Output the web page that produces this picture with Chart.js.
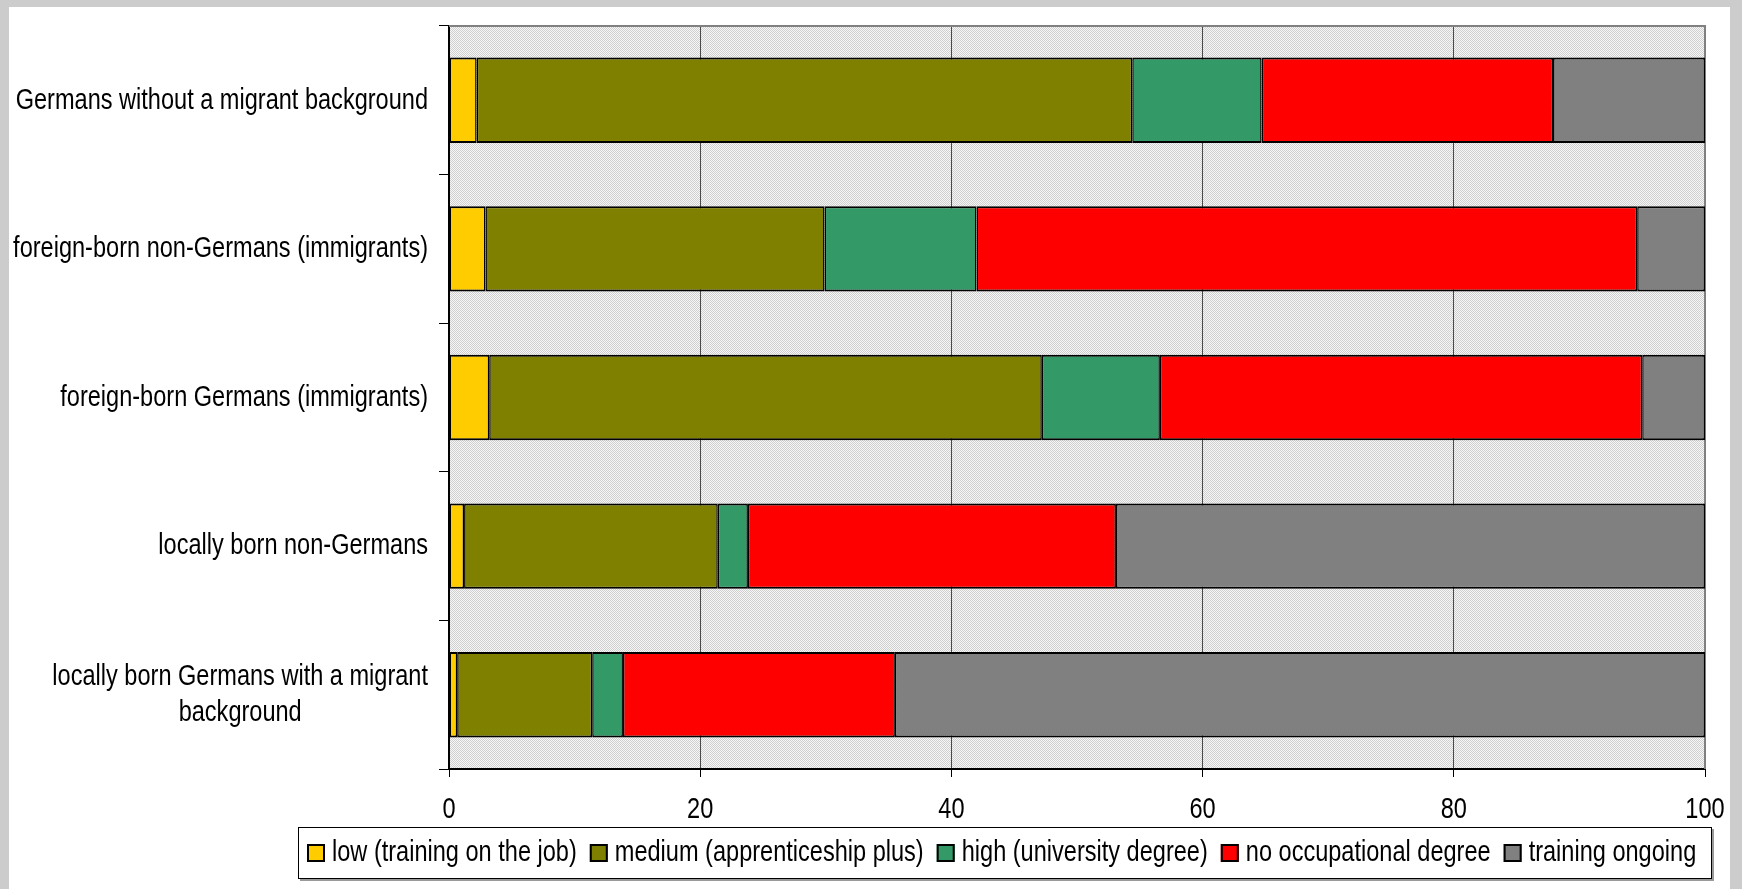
<!DOCTYPE html>
<html>
<head>
<meta charset="utf-8">
<script src="https://cdn.jsdelivr.net/npm/chart.js@4.4.1/dist/chart.umd.min.js"></script>
<style>
    body { margin: 0; background: #cccccc; width: 1742px; height: 889px; overflow: hidden; }
    #panel { position: absolute; left: 9px; top: 7px; width: 1721px; height: 882px; background: #ffffff; }
</style>
</head>
<body>
<div id="panel"><canvas id="chart" width="1721" height="882"></canvas></div>
<script>
const categories = [
    "Germans without a migrant background",
    "foreign-born non-Germans (immigrants)",
    "foreign-born Germans (immigrants)",
    "locally born non-Germans",
    ["locally born Germans with a migrant", "background"]
];
const seriesLabels = [
    "low (training on the job)",
    "medium (apprenticeship plus)",
    "high (university degree)",
    "no occupational degree",
    "training ongoing"
];
const seriesColors = ["#ffcc00", "#808000", "#339966", "#ff0000", "#808080"];
const lowValues = [2.2, 2.9, 3.2, 1.2, 0.65];
const mediumValues = [52.2, 27.0, 44.0, 20.2, 10.75];
const highValues = [10.3, 12.1, 9.4, 2.4, 2.45];
const noDegreeValues = [23.2, 52.6, 38.4, 29.3, 21.65];
const ongoingValues = [12.1, 5.4, 5.0, 46.9, 64.5];
const xTicks = [0, 20, 40, 60, 80, 100];

const fontFamily = "'Liberation Sans', Arial, sans-serif";
const fontSize = 30;
const narrow = 0.785;   // squeeze Liberation Sans to look like Arial Narrow

// draw text squeezed horizontally, x is the anchor for the given align
function narrowText(ctx, text, x, y, align) {
    ctx.save();
    ctx.font = fontSize + "px " + fontFamily;
    ctx.textAlign = align;
    ctx.textBaseline = "middle";
    ctx.fillStyle = "#000000";
    ctx.translate(x, y);
    ctx.scale(narrow, 1);
    ctx.fillText(text, 0, 0);
    ctx.restore();
}

function narrowWidth(ctx, text) {
    ctx.save();
    ctx.font = fontSize + "px " + fontFamily;
    let w = ctx.measureText(text).width * narrow;
    ctx.restore();
    return w;
}

// hatched light grey fill of the plot area
function makePattern(ctx) {
    let tile = document.createElement("canvas");
    tile.width = 4;
    tile.height = 4;
    let t = tile.getContext("2d");
    for (let x = 0; x < 4; x++) {
        for (let y = 0; y < 4; y++) {
            t.fillStyle = (x + y) % 2 === 0 ? "#cfcfcf" : "#f6f6f6";
            t.fillRect(x, y, 1, 1);
        }
    }
    return ctx.createPattern(tile, "repeat");
}

const plotBackground = {
    id: "plotBackground",
    beforeDraw(chart) {
        let ctx = chart.ctx;
        let a = chart.chartArea;
        ctx.save();
        ctx.fillStyle = makePattern(ctx);
        ctx.fillRect(a.left, a.top, a.right - a.left, a.bottom - a.top);
        ctx.restore();
    },
    beforeDatasetsDraw(chart) {
        let ctx = chart.ctx;
        let a = chart.chartArea;
        ctx.save();
        ctx.strokeStyle = "#808080";
        ctx.lineWidth = 2;
        ctx.beginPath();
        ctx.moveTo(a.left, a.top);
        ctx.lineTo(a.right, a.top);
        ctx.lineTo(a.right, a.bottom);
        ctx.stroke();
        ctx.restore();
    }
};

// axis labels: categories right aligned (wrapped one centred as a block), values under ticks
const axisLabels = {
    id: "axisLabels",
    afterDraw(chart) {
        let ctx = chart.ctx;
        let yScale = chart.scales.y;
        let xScale = chart.scales.x;
        let rightX = 419;
        categories.forEach((label, i) => {
            let y = yScale.getPixelForValue(i);
            let lines = Array.isArray(label) ? label : [label];
            let lineHeight = 35.5;
            if (lines.length === 1) {
                narrowText(ctx, lines[0], rightX, y, "right");
            } else {
                let maxWidth = Math.max(...lines.map(l => narrowWidth(ctx, l)));
                let startY = y - (lines.length - 1) * lineHeight / 2;
                lines.forEach((line, j) => {
                    narrowText(ctx, line, rightX - maxWidth / 2, startY + j * lineHeight, "center");
                });
            }
        });
        xTicks.forEach(v => {
            narrowText(ctx, String(v), xScale.getPixelForValue(v), xScale.top + 41, "center");
        });
    }
};

// boxed legend under the axis
const boxedLegend = {
    id: "boxedLegend",
    afterDraw(chart) {
        let ctx = chart.ctx;
        let box = { left: 289, top: 820, right: 1703, bottom: 872 };
        ctx.save();
        ctx.fillStyle = "#9a9a9a";
        ctx.fillRect(box.left + 2, box.top + 2, box.right - box.left, box.bottom - box.top);
        ctx.fillStyle = "#ffffff";
        ctx.fillRect(box.left, box.top, box.right - box.left, box.bottom - box.top);
        ctx.strokeStyle = "#000000";
        ctx.lineWidth = 1;
        ctx.strokeRect(box.left + 0.5, box.top + 0.5, box.right - box.left - 1, box.bottom - box.top - 1);

        let x = box.left + 9;
        let midY = (box.top + box.bottom) / 2;
        chart.data.datasets.forEach(ds => {
            ctx.fillStyle = ds.backgroundColor;
            ctx.fillRect(x, midY - 9, 18, 18);
            ctx.strokeStyle = "#000000";
            ctx.lineWidth = 2;
            ctx.strokeRect(x + 1, midY - 8, 16, 16);
            narrowText(ctx, ds.label, x + 25, midY, "left");
            x += 25 + narrowWidth(ctx, ds.label) + 13;
        });
        ctx.restore();
    }
};

const seriesValues = [lowValues, mediumValues, highValues, noDegreeValues, ongoingValues];

function buildDatasets() {
    return seriesLabels.map((label, i) => ({
        label: label,
        data: seriesValues[i],
        backgroundColor: seriesColors[i],
        borderColor: "#000000",
        borderWidth: { top: 2, bottom: 2, left: 1.5, right: 1.5 },
        borderSkipped: false,
        barPercentage: 0.575,
        categoryPercentage: 1
    }));
}

function createChart() {
    let ctx = document.getElementById("chart").getContext("2d");
    new Chart(ctx, {
        type: "bar",
        data: {
            labels: categories,
            datasets: buildDatasets()
        },
        options: {
            indexAxis: "y",
            responsive: false,
            animation: false,
            devicePixelRatio: 1,
            layout: { padding: { top: 19, right: 25, bottom: 60, left: 0 } },
            plugins: {
                legend: { display: false },
                tooltip: { enabled: false }
            },
            scales: {
                x: {
                    stacked: true,
                    min: 0,
                    max: 100,
                    afterBuildTicks: scale => {
                        scale.ticks = xTicks.map(v => ({ value: v }));
                    },
                    afterFit: scale => { scale.height = 60; },
                    border: { display: true, color: "#000000", width: 2 },
                    grid: {
                        color: c => (c.tick && c.tick.value === 100 ? "#808080" : "#4a4a4a"),
                        lineWidth: 1,
                        drawTicks: true,
                        tickLength: 8,
                        tickColor: "#000000"
                    },
                    ticks: { display: false }
                },
                y: {
                    stacked: true,
                    afterFit: scale => { scale.width = 440; },
                    border: { display: true, color: "#000000", width: 2 },
                    grid: {
                        offset: true,
                        drawOnChartArea: false,
                        drawTicks: true,
                        tickLength: 10,
                        tickColor: "#000000"
                    },
                    ticks: { display: false }
                }
            }
        },
        plugins: [plotBackground, axisLabels, boxedLegend]
    });
}

document.addEventListener("DOMContentLoaded", function() {
    createChart();
});
</script>
</body>
</html>
